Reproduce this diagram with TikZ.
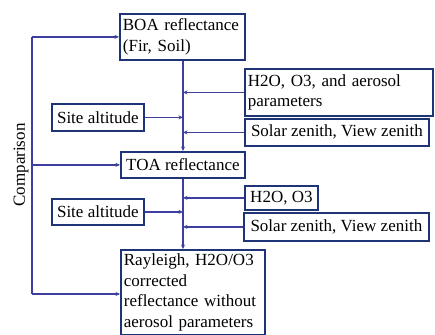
\documentclass[tikz,border=0pt]{standalone}
\usepackage{fontspec}
\setmainfont{Liberation Serif}
\usetikzlibrary{arrows.meta}
\definecolor{boxline}{RGB}{31,52,118}
\definecolor{linkcol}{RGB}{62,62,160}
\begin{document}
\begin{tikzpicture}[x=1pt,y=-1pt,
  box/.style={draw=boxline,line width=1.8pt,rectangle,anchor=north west,inner xsep=3pt,inner ysep=2pt,
    align=left,font=\fontsize{17pt}{20.5pt}\selectfont},
  link/.style={draw=linkcol,line width=1.4pt},
  tip/.style={-{Stealth[length=4.5pt,width=4pt]}}]
\fill[white] (0,0) rectangle (435,334);
\useasboundingbox (0,0) rectangle (435,334);
\clip (0,0) rectangle (435,334);
\node[box,text width=119pt,minimum height=46pt] (boa) at (119,13) {BOA reflectance\\(Fir, Soil)};
\node[box,text width=182pt,minimum height=47pt] (h2oa) at (244,68) {H2O, O3, and aerosol\\parameters};
\node[box,minimum width=184pt,minimum height=27pt] (sz1) at (244,118) {Solar zenith, View zenith};
\node[box,minimum width=92pt,minimum height=27pt] (sa1) at (51,103) {Site altitude};
\node[box,minimum width=124pt,minimum height=26pt] (toa) at (120,151) {TOA reflectance};
\node[box,minimum width=73pt,minimum height=24pt] (h2ob) at (244,185) {H2O, O3};
\node[box,minimum width=185pt,minimum height=28pt] (sz2) at (243,212) {Solar zenith, View zenith};
\node[box,minimum width=92pt,minimum height=26pt] (sa2) at (51,198) {Site altitude};
\node[box,text width=138pt,inner ysep=4pt] (fin) at (120,249) {Rayleigh, H2O/O3\\corrected\\reflectance without\\aerosol parameters};
\node[rotate=90,font=\fontsize{17pt}{20.5pt}\selectfont] (cmp) at (21,165) {Comparison};
\coordinate (vx) at (183,0);
\coordinate (cmpx) at (32,294);
% main vertical flow
\draw[link,tip] (boa.south -| vx) -- (toa.north -| vx);
\draw[link,tip] (toa.south -| vx) -- (fin.north -| vx);
% inputs
\draw[link,tip] (h2oa.west) -- (h2oa.west -| vx);
\draw[link,tip] (sz1.west) -- (sz1.west -| vx);
\draw[link,tip] (sa1.east) -- (sa1.east -| vx);
\draw[link,tip] (h2ob.west) -- (h2ob.west -| vx);
\draw[link,tip] (sz2.west) -- (sz2.west -| vx);
\draw[link,tip] (sa2.east) -- (sa2.east -| vx);
% comparison
\draw[link] (boa.west -| cmpx) -- (cmpx);
\draw[link,tip] (boa.west -| cmpx) -- (boa.west);
\draw[link,tip] (toa.west -| cmpx) -- (toa.west);
\draw[link,tip] (cmpx) -- (cmpx -| fin.west);
\end{tikzpicture}
\end{document}
